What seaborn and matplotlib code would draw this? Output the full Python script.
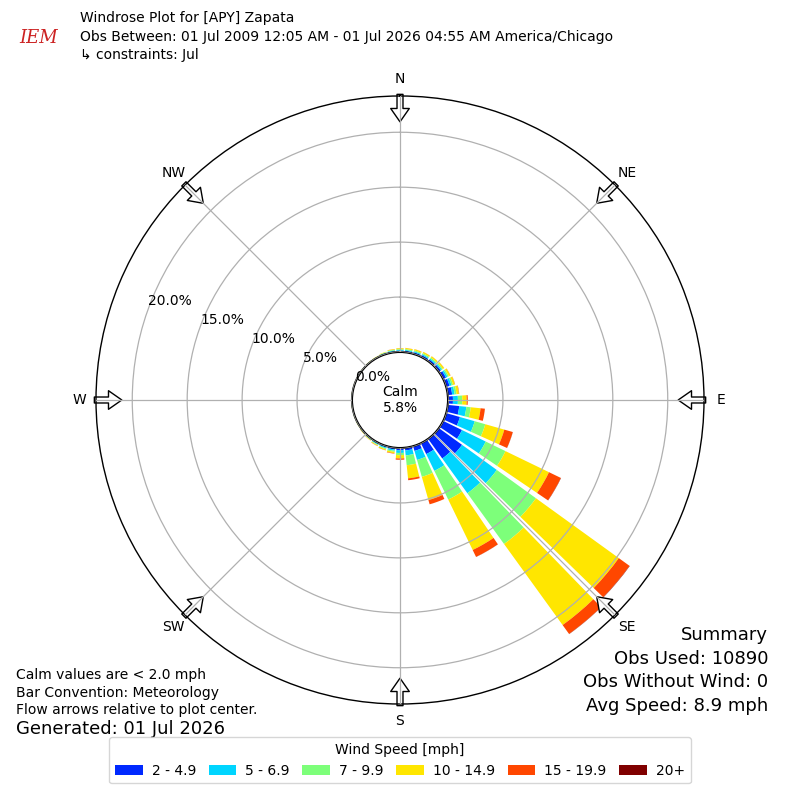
import numpy as np
import pandas as pd
import matplotlib
matplotlib.use("Agg")
import matplotlib.pyplot as plt
import seaborn as sns
from matplotlib.patches import Patch

# ---------------- data (percent of observations) ----------------
directions = list(range(0, 360, 10))
speed_bins = ["2 - 4.9", "5 - 6.9", "7 - 9.9", "10 - 14.9", "15 - 19.9", "20+"]

pct_2_5 = [0.12, 0.13, 0.15, 0.17, 0.19, 0.22, 0.28, 0.32, 0.40,
           0.45, 1.05, 1.30, 1.90, 2.60, 2.20, 1.10, 0.45, 0.25,
           0.20, 0.15, 0.12, 0.09, 0.07, 0.05, 0.04, 0.03, 0.03,
           0.03, 0.02, 0.02, 0.02, 0.03, 0.04, 0.04, 0.07, 0.10]
pct_5_7 = [0.07, 0.08, 0.09, 0.10, 0.11, 0.12, 0.16, 0.18, 0.22,
           0.45, 0.65, 1.40, 2.40, 3.90, 3.90, 1.70, 0.85, 0.45,
           0.25, 0.12, 0.09, 0.07, 0.04, 0.03, 0.02, 0.02, 0.02,
           0.02, 0.02, 0.02, 0.02, 0.02, 0.02, 0.03, 0.05, 0.07]
pct_7_10 = [0.07, 0.08, 0.09, 0.10, 0.11, 0.11, 0.13, 0.15, 0.18,
            0.40, 0.40, 1.00, 2.00, 4.40, 5.70, 2.90, 1.60, 0.90,
            0.20, 0.10, 0.08, 0.06, 0.04, 0.03, 0.02, 0.02, 0.01,
            0.01, 0.01, 0.01, 0.01, 0.02, 0.02, 0.02, 0.04, 0.06]
pct_10_15 = [0.08, 0.10, 0.11, 0.12, 0.13, 0.14, 0.16, 0.18, 0.22,
             0.40, 0.90, 1.80, 4.40, 9.30, 9.10, 5.10, 2.20, 1.20,
             0.30, 0.13, 0.09, 0.06, 0.04, 0.03, 0.02, 0.01, 0.01,
             0.01, 0.01, 0.01, 0.01, 0.01, 0.02, 0.03, 0.04, 0.06]
pct_15_20 = [0.01, 0.01, 0.01, 0.01, 0.01, 0.01, 0.02, 0.02, 0.03,
             0.10, 0.40, 0.80, 1.20, 1.20, 1.00, 0.70, 0.40, 0.17,
             0.12, 0.04, 0.02, 0.02, 0.01, 0.01, 0.00, 0.00, 0.00,
             0.00, 0.00, 0.00, 0.00, 0.00, 0.00, 0.00, 0.00, 0.01]
pct_20_up = [0.00, 0.00, 0.00, 0.00, 0.00, 0.00, 0.00, 0.00, 0.00,
             0.00, 0.00, 0.01, 0.02, 0.03, 0.02, 0.01, 0.00, 0.00,
             0.00, 0.00, 0.00, 0.00, 0.00, 0.00, 0.00, 0.00, 0.00,
             0.00, 0.00, 0.00, 0.00, 0.00, 0.00, 0.00, 0.00, 0.00]

calm_pct = 5.8
ring_values = [0, 5, 10, 15, 20]
ring_labels = ["0.0%", "5.0%", "10.0%", "15.0%", "20.0%"]
compass_angles = [0, 45, 90, 135, 180, 225, 270, 315]
compass_labels = ["N", "NE", "E", "SE", "S", "SW", "W", "NW"]

title_lines = ["Windrose Plot for [APY] Zapata",
               "Obs Between: 01 Jul 2009 12:05 AM - 01 Jul 2026 04:55 AM America/Chicago",
               "\u21b3 constraints: Jul"]
left_notes = ["Calm values are < 2.0 mph", "Bar Convention: Meteorology",
              "Flow arrows relative to plot center."]
generated = "Generated: 01 Jul 2026"
summary_lines = ["Summary", "Obs Used: 10890", "Obs Without Wind: 0",
                 "Avg Speed: 8.9 mph"]

df = pd.DataFrame({"direction": directions, speed_bins[0]: pct_2_5,
                   speed_bins[1]: pct_5_7, speed_bins[2]: pct_7_10,
                   speed_bins[3]: pct_10_15, speed_bins[4]: pct_15_20,
                   speed_bins[5]: pct_20_up})

# ---------------- style ----------------
sns.set_theme(style="white")
plt.rcParams["font.family"] = ["DejaVu Sans"]
plt.rcParams["text.color"] = "black"
plt.rcParams["xtick.color"] = "black"
plt.rcParams["ytick.color"] = "black"
plt.rcParams["axes.labelcolor"] = "black"
jet = matplotlib.colormaps["jet"]
colors = [jet(i / 6.0) for i in range(1, 7)]

fig = plt.figure(figsize=(8, 8), dpi=100)
fig.patch.set_facecolor("white")
ax = fig.add_axes([0.12, 0.12, 0.76, 0.76], projection="polar")
ax.set_facecolor("white")
ax.set_theta_zero_location("N")
ax.set_theta_direction(-1)

theta = np.deg2rad(df["direction"].to_numpy())
width = np.deg2rad(8.3)
bottom = np.zeros(len(df))
for name, col in zip(speed_bins, colors):
    vals = df[name].to_numpy()
    ax.bar(theta, vals, width=width, bottom=bottom, color=col,
           edgecolor="none", linewidth=0, zorder=1)
    bottom = bottom + vals

ax.set_ylim(0, 23.3)
ax.set_rorigin(-4.37)
ax.set_axisbelow(False)
ax.set_yticks(ring_values)
ax.set_yticklabels(ring_labels, fontsize=10, color="black")
ax.set_rlabel_position(290)
ax.set_xticks(np.deg2rad(compass_angles))
ax.set_xticklabels(compass_labels, fontsize=10, color="black")
ax.tick_params(axis="x", pad=-1)
ax.grid(True, color="#b0b0b0", linewidth=0.9)
ax.spines["polar"].set_color("black")
ax.spines["polar"].set_linewidth(1.0)
if "inner" in ax.spines:
    ax.spines["inner"].set_visible(True)
    ax.spines["inner"].set_color("black")
    ax.spines["inner"].set_linewidth(1.5)

# flow arrows pointing to the plot center
for ang in compass_angles:
    ax.annotate("", xy=(np.deg2rad(ang), 20.95), xytext=(np.deg2rad(ang), 23.45),
                arrowprops=dict(facecolor="white", edgecolor="black", width=4.3,
                                headwidth=13.4, headlength=9.6, shrink=0, lw=1),
                annotation_clip=False, zorder=2)

ax.text(0.5, 0.5, "Calm\n%.1f%%" % calm_pct, transform=ax.transAxes,
        ha="center", va="center", fontsize=10, zorder=6)

# ---------------- texts ----------------
fig.text(0.048, 0.953, "IEM", color="#cc2222", fontsize=13, family="DejaVu Serif",
         style="italic", ha="center", va="center")
for i, line in enumerate(title_lines):
    fig.text(0.1, 1 - (18 + i * 18.5) / 800, line, fontsize=10, ha="left", va="center")
for i, line in enumerate(left_notes):
    fig.text(0.02, 1 - (675 + i * 17.5) / 800, line, fontsize=10, ha="left", va="center")
fig.text(0.02, 1 - 729 / 800, generated, fontsize=13, ha="left", va="center")
for i, line in enumerate(summary_lines):
    fig.text(0.96, 1 - (635 + i * 23.7) / 800, line, fontsize=13, ha="right", va="center")

handles = [Patch(facecolor=c, edgecolor="none") for c in colors]
leg = fig.legend(handles, speed_bins, loc="lower center", ncol=6,
                 bbox_to_anchor=(0.5, 0.012), title="Wind Speed [mph]",
                 fontsize=10, title_fontsize=10, frameon=True,
                 handlelength=2.0, handleheight=0.7, handletextpad=0.65,
                 columnspacing=0.9)
leg.get_frame().set_edgecolor("#cccccc")

fig.savefig("out.png", dpi=100, facecolor="white")
